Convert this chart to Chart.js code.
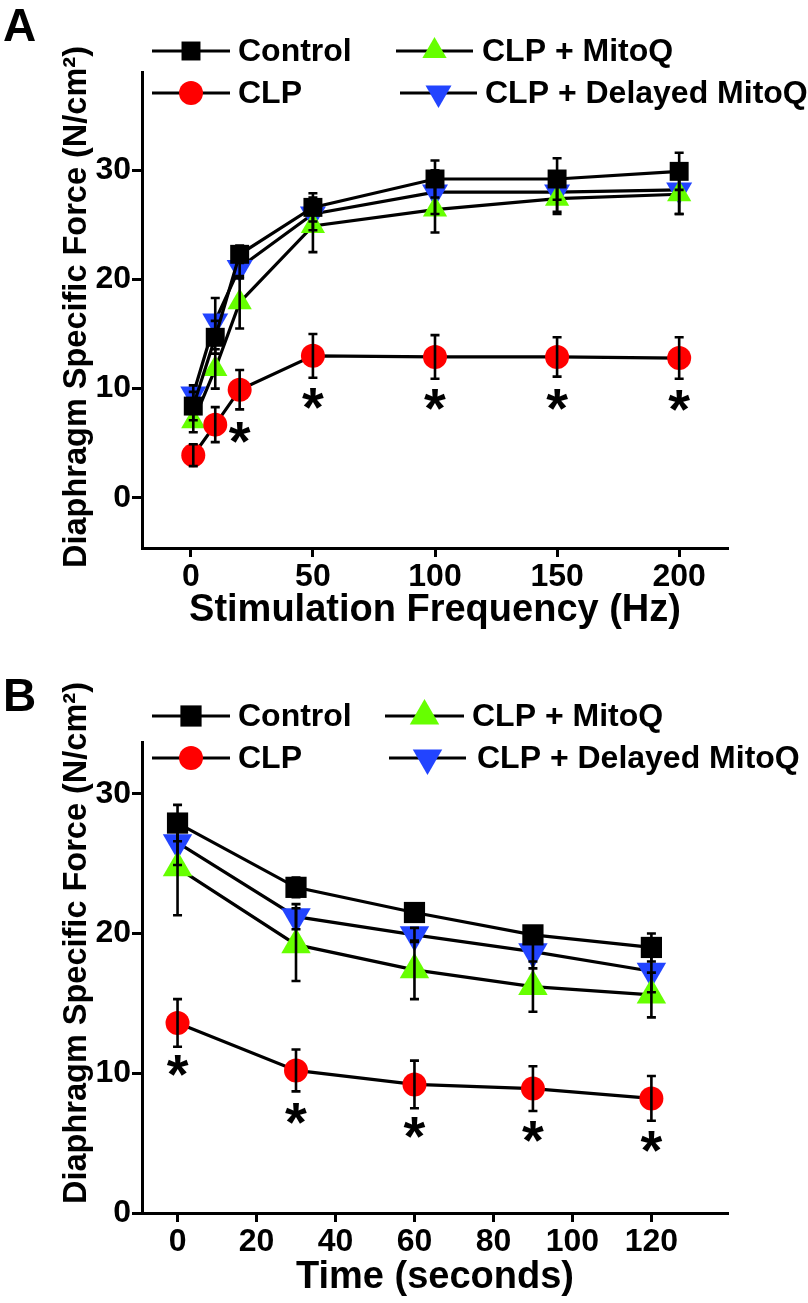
<!DOCTYPE html>
<html>
<head>
<meta charset="utf-8">
<script src="https://cdn.jsdelivr.net/npm/chart.js@4.4.0/dist/chart.umd.min.js"></script>
<style>
  body { margin: 0; background: #fff; width: 808px; height: 1303px; position: relative; overflow: hidden; }
  .panel { position: absolute; left: 0; width: 808px; }
  .letter { position: absolute; left: 3px; font: bold 46px 'Liberation Sans', Arial, sans-serif; line-height: 1; color: #000; }
</style>
</head>
<body>
<div class="panel" style="top:0;height:650px"><canvas id="chartA" width="808" height="650"></canvas></div>
<div class="panel" style="top:650px;height:653px"><canvas id="chartB" width="808" height="653"></canvas></div>
<div class="letter" style="top:2px">A</div>
<div class="letter" style="top:672px">B</div>
<script>
// series shared by both panels
const seriesLabels = ['Control', 'CLP', 'CLP + MitoQ', 'CLP + Delayed MitoQ'];
const seriesColors = ['#000000', '#ff0000', '#66ff00', '#2244ff'];
const markerStyles = ['rect', 'circle', 'triangle', 'triangle'];
const markerRotation = [0, 0, 0, 180];
const yTitle = 'Diaphragm Specific Force (N/cm\u00B2)';

// panel A: force-frequency
const freqHz = [1, 10, 20, 50, 100, 150, 200];
const freqControl = [8.4, 14.7, 22.3, 26.6, 29.2, 29.2, 29.9];
const freqControlErr = [1.3, 1.5, 0.8, 1.3, 1.7, 1.9, 1.7];
const freqCLP = [3.9, 6.7, 9.9, 13.0, 12.9, 12.9, 12.8];
const freqCLPErr = [1.0, 1.6, 1.8, 2.0, 2.0, 1.8, 1.9];
const freqMitoQ = [7.0, 11.8, 17.9, 24.9, 26.4, 27.4, 27.8];
const freqMitoQErr = [1.0, 1.8, 2.4, 2.4, 2.1, 1.4, 1.8];
const freqDelayed = [9.5, 16.2, 21.1, 26.0, 28.0, 28.0, 28.2];
const freqDelayedErr = [0.8, 2.1, 1.0, 1.5, 2.0, 1.8, 2.2];
const freqStars = [false, false, true, true, true, true, true];
const freqXTicks = [0, 50, 100, 150, 200];
const freqYTicks = [0, 10, 20, 30];

// panel B: fatigue over time
const timeSec = [0, 30, 60, 90, 120];
const timeControl = [27.9, 23.3, 21.5, 19.9, 19.0];
const timeControlErr = [1.3, 0.7, 0.6, 0.6, 1.0];
const timeCLP = [13.6, 10.2, 9.2, 8.9, 8.2];
const timeCLPErr = [1.7, 1.5, 1.7, 1.6, 1.6];
const timeMitoQ = [24.7, 19.2, 17.4, 16.2, 15.6];
const timeMitoQErr = [3.4, 2.6, 2.1, 1.8, 1.6];
const timeDelayed = [26.5, 21.2, 19.9, 18.7, 17.3];
const timeDelayedErr = [1.6, 0.9, 0.5, 1.2, 1.5];
const timeStars = [true, true, true, true, true];
const timeXTicks = [0, 20, 40, 60, 80, 100, 120];
const timeYTicks = [0, 10, 20, 30];

const FONT = "'Liberation Sans', Arial, sans-serif";

function buildDatasets(xs, ys, errs, sizes) {
  return ys.map((vals, i) => ({
    label: seriesLabels[i],
    data: xs.map((x, j) => ({ x: x, y: vals[j] })),
    errors: errs[i],
    borderColor: '#000',
    borderWidth: 3.2,
    tension: 0,
    fill: false,
    pointStyle: markerStyles[i],
    rotation: markerRotation[i],
    pointRadius: sizes[i],
    pointBackgroundColor: seriesColors[i],
    pointBorderColor: seriesColors[i],
    pointBorderWidth: 0
  }));
}

const errorBars = {
  id: 'errorBars',
  afterDatasetsDraw(chart, args, opts) {
    const { ctx } = chart;
    const x = chart.scales.x, y = chart.scales.y;
    ctx.save();
    ctx.strokeStyle = '#000';
    ctx.lineWidth = opts.width;
    chart.data.datasets.forEach(ds => {
      ds.data.forEach((p, j) => {
        const e = ds.errors[j];
        const px = x.getPixelForValue(p.x);
        const top = y.getPixelForValue(p.y + e);
        const bot = y.getPixelForValue(p.y - e);
        ctx.beginPath();
        ctx.moveTo(px, top); ctx.lineTo(px, bot);
        ctx.moveTo(px - opts.cap, top); ctx.lineTo(px + opts.cap, top);
        ctx.moveTo(px - opts.cap, bot); ctx.lineTo(px + opts.cap, bot);
        ctx.stroke();
      });
    });
    ctx.restore();
  }
};

const stars = {
  id: 'stars',
  afterDatasetsDraw(chart, args, opts) {
    const { ctx } = chart;
    const ds = chart.data.datasets[opts.dataset];
    ctx.save();
    ctx.fillStyle = '#000';
    ctx.font = 'bold ' + opts.size + 'px ' + FONT;
    ctx.textAlign = 'center';
    ctx.textBaseline = 'alphabetic';
    ds.data.forEach((p, j) => {
      if (!opts.flags[j]) return;
      const px = chart.scales.x.getPixelForValue(p.x);
      const py = chart.scales.y.getPixelForValue(p.y) + opts.offset;
      ctx.fillText('*', px, py + opts.size * 0.575);
    });
    ctx.restore();
  }
};

// rotated y-axis title, centred where the original figure puts it
const sideTitle = {
  id: 'sideTitle',
  afterDraw(chart, args, opts) {
    const { ctx } = chart;
    ctx.save();
    ctx.translate(opts.x, opts.y);
    ctx.rotate(-Math.PI / 2);
    ctx.fillStyle = '#000';
    ctx.font = 'bold ' + opts.size + 'px ' + FONT;
    ctx.textAlign = 'center';
    ctx.textBaseline = 'middle';
    ctx.fillText(opts.text, 0, 0);
    ctx.restore();
  }
};

const boxLegend = {
  id: 'boxLegend',
  afterDraw(chart, args, opts) {
    const { ctx } = chart;
    ctx.save();
    chart.data.datasets.forEach((ds, i) => {
      const it = opts.items[i];
      ctx.strokeStyle = '#000';
      ctx.lineWidth = 3.2;
      ctx.beginPath();
      ctx.moveTo(it.x0, it.y); ctx.lineTo(it.x1, it.y);
      ctx.stroke();
      ctx.fillStyle = ds.pointBackgroundColor;
      ctx.strokeStyle = ds.pointBorderColor;
      Chart.helpers.drawPoint(ctx, {
        pointStyle: ds.pointStyle, rotation: ds.rotation,
        radius: ds.pointRadius, borderWidth: 0
      }, (it.x0 + it.x1) / 2, it.y);
      ctx.fillStyle = '#000';
      ctx.font = 'bold ' + opts.size + 'px ' + FONT;
      ctx.textAlign = 'left';
      ctx.textBaseline = 'middle';
      ctx.fillText(ds.label, it.tx, it.y + 1);
    });
    ctx.restore();
  }
};

function makeChart(id, cfg) {
  const tickFont = { size: 32, weight: 'bold', family: FONT };
  return new Chart(document.getElementById(id), {
    type: 'line',
    data: { datasets: buildDatasets(cfg.xs, cfg.ys, cfg.errs, cfg.sizes) },
    plugins: [errorBars, stars, sideTitle, boxLegend],
    options: {
      responsive: false,
      animation: false,
      devicePixelRatio: 1,
      layout: { padding: { top: cfg.top, right: 80, left: 0, bottom: 0 } },
      plugins: {
        legend: { display: false },
        tooltip: { enabled: false },
        errorBars: { width: 2.6, cap: 4.5 },
        stars: { dataset: 1, flags: cfg.stars, size: 56, offset: 38 },
        sideTitle: { text: yTitle, size: 32.5, x: 77, y: cfg.titleY },
        boxLegend: { items: cfg.legend, size: 32 }
      },
      scales: {
        x: {
          type: 'linear', min: cfg.xMin, max: cfg.xMax,
          afterBuildTicks: s => { s.ticks = cfg.xTicks.map(v => ({ value: v })); },
          afterFit: s => { s.height = cfg.xHeight; },
          border: { display: true, color: '#000', width: 3 },
          grid: { drawOnChartArea: false, drawTicks: true, tickLength: 9, tickWidth: 3, tickColor: '#000' },
          ticks: { color: '#000', font: tickFont, padding: 1, maxRotation: 0, autoSkip: false },
          title: { display: true, text: cfg.xTitle, color: '#000',
                   font: { size: 38, weight: 'bold', family: FONT },
                   padding: { top: 0, bottom: cfg.xTitlePad } }
        },
        y: {
          type: 'linear', min: cfg.yMin, max: cfg.yMax,
          afterBuildTicks: s => { s.ticks = cfg.yTicks.map(v => ({ value: v })); },
          afterFit: s => { s.width = 142; },
          border: { display: true, color: '#000', width: 3 },
          grid: { drawOnChartArea: false, drawTicks: true, tickLength: 10, tickWidth: 3, tickColor: '#000' },
          ticks: { color: '#000', font: tickFont, padding: 1 },
          title: { display: false }
        }
      }
    }
  });
}

makeChart('chartA', {
  xs: freqHz,
  ys: [freqControl, freqCLP, freqMitoQ, freqDelayed],
  errs: [freqControlErr, freqCLPErr, freqMitoQErr, freqDelayedErr],
  sizes: [13.4, 12, 14, 15],
  stars: freqStars,
  xMin: -20, xMax: 220, yMin: -4.6, yMax: 39,
  xTicks: freqXTicks, yTicks: freqYTicks,
  top: 72, xHeight: 102, xTitlePad: 17, titleY: 307,
  xTitle: 'Stimulation Frequency (Hz)',
  legend: [
    { x0: 152, x1: 230, tx: 238, y: 51 },
    { x0: 152, x1: 230, tx: 238, y: 93 },
    { x0: 396, x1: 473, tx: 482, y: 51 },
    { x0: 400, x1: 477, tx: 485, y: 93 }
  ]
});

makeChart('chartB', {
  xs: timeSec,
  ys: [timeControl, timeCLP, timeMitoQ, timeDelayed],
  errs: [timeControlErr, timeCLPErr, timeMitoQErr, timeDelayedErr],
  sizes: [15, 12, 17, 17],
  stars: timeStars,
  xMin: -9, xMax: 139.4, yMin: 0, yMax: 33.7,
  xTicks: timeXTicks, yTicks: timeYTicks,
  top: 92, xHeight: 90, xTitlePad: 3, titleY: 293,
  xTitle: 'Time (seconds)',
  legend: [
    { x0: 152, x1: 230, tx: 238, y: 66 },
    { x0: 152, x1: 230, tx: 238, y: 108 },
    { x0: 385, x1: 464, tx: 472, y: 66 },
    { x0: 389, x1: 466, tx: 477, y: 108 }
  ]
});
</script>
</body>
</html>
